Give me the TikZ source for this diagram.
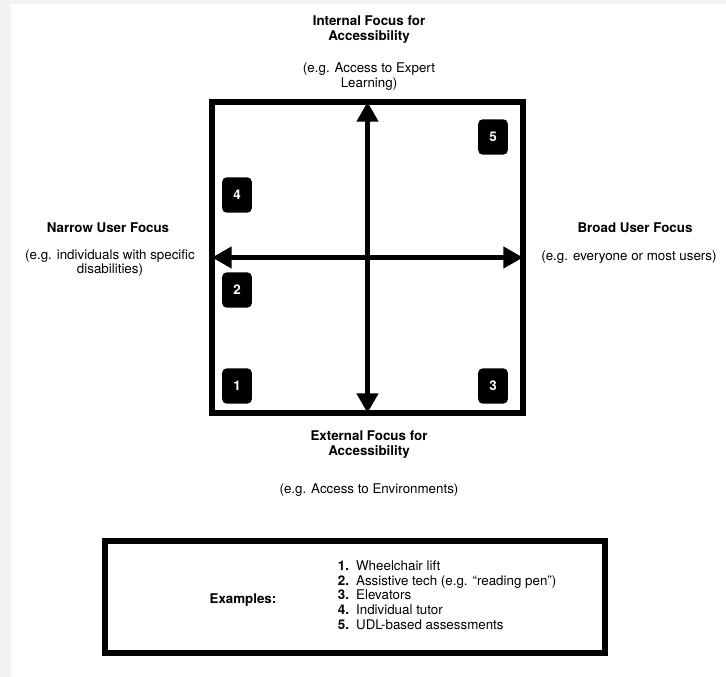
\documentclass[tikz,border=0pt]{standalone}
\usepackage{fontspec}
\setmainfont{TeX Gyre Heros}
\usetikzlibrary{arrows.meta}
\tikzstyle{num} = [fill=black, rounded corners=3pt, text=white, font={\bfseries\fontsize{9.5}{10.6}\selectfont}, minimum width=21pt, minimum height=25pt, inner sep=0pt]
\tikzstyle{head} = [align=center, font={\bfseries\fontsize{9.5}{10.6}\selectfont}]
\tikzstyle{note} = [align=center, font={\fontsize{9.5}{10.6}\selectfont}]
\tikzstyle{frame} = [draw=black, line width=4pt, inner sep=0pt]
\tikzstyle{axis} = [line width=3pt, shorten <=2pt, shorten >=2pt, {Triangle[length=14pt,width=15pt]}-{Triangle[length=14pt,width=15pt]}]

\begin{document}
\begin{tikzpicture}
  \useasboundingbox (0,0) rectangle (18.15,-16.925);
  \fill[black!5] (0,0) rectangle (18.15,-16.925);
  \fill[white] (0.275,-0.1) rectangle (18.15,-16.925);
  % quadrant
  \node[frame, minimum width=7.775cm, minimum height=7.775cm](quad) at (9.1875,-6.4375){};
  \draw[axis](quad.south)--(quad.north);
  \draw[axis](quad.west)--(quad.east);
  \node[num](4) at (5.925,-4.875){4};
  \node[num](2) at (5.925,-7.25){2};
  \node[num](1) at (5.925,-9.65){1};
  \node[num](5) at (12.325,-3.425){5};
  \node[num](3) at (12.325,-9.65){3};
  % axis labels
  \node[head](inthead) at (9.225,-0.75){Internal Focus for\\Accessibility};
  \node[note](intnote) at (9.225,-1.925){(e.g. Access to Expert\\Learning)};
  \node[head](narrowhead) at (2.7,-5.7){Narrow User Focus};
  \node[note](narrownote) at (2.75,-6.575){(e.g. individuals with specific\\disabilities)};
  \node[head](broadhead) at (15.875,-5.7){Broad User Focus};
  \node[note](broadnote) at (15.725,-6.425){(e.g. everyone or most users)};
  \node[head](exthead) at (9.225,-11.125){External Focus for\\Accessibility};
  \node[note](extnote) at (9.225,-12.25){(e.g. Access to Environments)};
  % examples
  \node[frame, minimum width=12.5cm, minimum height=2.8cm](exbox) at (8.875,-14.925){};
  \node[head](exhead) at (6.075,-15.0){Examples:};
  \node[note, anchor=west](exlist) at (8.325,-14.925){%
    \begin{tabular}{@{}l@{\hspace{5pt}}l@{}}
      \textbf{1.} & Wheelchair lift\\
      \textbf{2.} & Assistive tech (e.g. “reading pen”)\\
      \textbf{3.} & Elevators\\
      \textbf{4.} & Individual tutor\\
      \textbf{5.} & UDL-based assessments
    \end{tabular}};
\end{tikzpicture}
\end{document}
